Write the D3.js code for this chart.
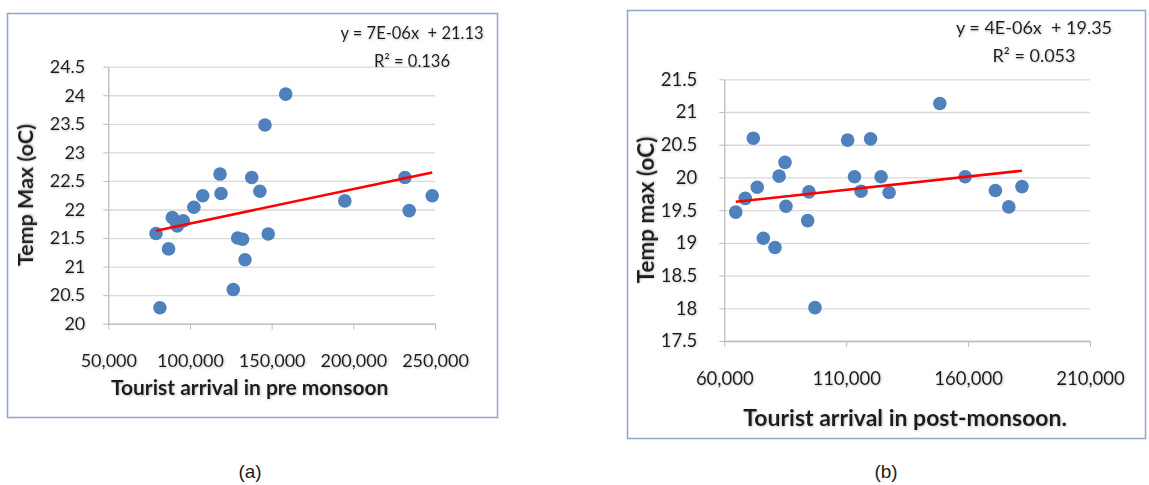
<!DOCTYPE html>
<html>
<head>
<meta charset="utf-8">
<script src="https://d3js.org/d3.v7.min.js"></script>
<style>
  body { margin: 0; background: #fff; }
  svg { display: block; }
  text { font-family: Lato, "Open Sans", sans-serif; fill: #1b1b1b; }
</style>
</head>
<body>
<svg width="1149" height="485">
  <defs>
    <filter id="soft" x="-5%" y="-20%" width="110%" height="140%">
      <feDropShadow dx="0.8" dy="0.8" stdDeviation="0.8" flood-color="#888" flood-opacity="0.55"></feDropShadow>
    </filter>
  </defs>
</svg>
<script>
// (a) pre monsoon
var preArrivals = [79200, 86900, 81600, 89200, 91400, 95900, 92200, 102400, 107800, 129200, 132200, 133700,
  126500, 147900, 158600, 145900, 118400, 119000, 137800, 142800, 231600, 194800, 248300, 234200];
var preTempMax = [21.58, 21.31, 20.28, 21.86, 21.79, 21.80, 21.71, 22.04, 22.24, 21.50, 21.48, 21.12,
  20.60, 21.57, 24.02, 23.48, 22.62, 22.28, 22.56, 22.32, 22.56, 22.15, 22.24, 21.98];
var preXTicks = [50000, 100000, 150000, 200000, 250000];
var preYTicks = [20, 20.5, 21, 21.5, 22, 22.5, 23, 23.5, 24, 24.5];

// (b) post monsoon
var postArrivals = [71900, 84900, 82500, 73500, 68600, 64700, 85300, 94700, 94200, 76000, 80800, 97200,
  148400, 110600, 120000, 113400, 124300, 116100, 127600, 158800, 171200, 182100, 176700];
var postTempMax = [20.60, 20.23, 20.02, 19.85, 19.68, 19.47, 19.56, 19.78, 19.34, 19.07, 18.93, 18.01,
  21.13, 20.57, 20.59, 20.01, 20.01, 19.79, 19.77, 20.01, 19.80, 19.86, 19.55];
var postXTicks = [60000, 110000, 160000, 210000];
var postYTicks = [17.5, 18, 18.5, 19, 19.5, 20, 20.5, 21, 21.5];

var svg = d3.select('svg');

function fit(xs, ys) {
  var mx = d3.mean(xs), my = d3.mean(ys), sxy = 0, sxx = 0;
  xs.forEach(function (x, i) { sxy += (x - mx) * (ys[i] - my); sxx += (x - mx) * (x - mx); });
  var b = sxy / sxx;
  return { slope: b, intercept: my - b * mx };
}

function panel(opt) {
  // outer frame
  svg.append('rect')
    .attr('x', opt.box[0] + 0.5).attr('y', opt.box[1] + 0.5)
    .attr('width', opt.box[2] - opt.box[0]).attr('height', opt.box[3] - opt.box[1])
    .attr('fill', '#fff').attr('stroke', '#8ea7cd').attr('stroke-width', 1.5);

  var x = d3.scaleLinear().domain(d3.extent(opt.xTicks)).range([opt.left, opt.right]);
  var y = d3.scaleLinear().domain(d3.extent(opt.yTicks)).range([opt.bottom, opt.top]);

  // gridlines
  svg.append('g')
    .attr('transform', 'translate(' + opt.left + ',0)')
    .call(d3.axisLeft(y).tickValues(opt.yTicks).tickSize(-(opt.right - opt.left)).tickFormat(''))
    .call(function (g) { g.select('.domain').remove(); })
    .selectAll('line').attr('stroke', '#d9d9d9').attr('stroke-width', 1.3);

  // y axis
  var ya = svg.append('g')
    .attr('transform', 'translate(' + opt.left + ',0)')
    .call(d3.axisLeft(y).tickValues(opt.yTicks).tickSizeInner(5).tickSizeOuter(0).tickPadding(opt.yPad)
      .tickFormat(function (d) { return String(d); }));
  ya.select('.domain').attr('stroke', '#bdbdbd').attr('stroke-width', 1.3);
  ya.selectAll('line').attr('stroke', '#bdbdbd');
  ya.selectAll('text').style('font-size', opt.tickFont).attr('fill', '#1b1b1b').attr('filter', 'url(#soft)');

  // x axis
  var xa = svg.append('g')
    .attr('transform', 'translate(0,' + opt.bottom + ')')
    .call(d3.axisBottom(x).tickValues(opt.xTicks).tickSizeInner(6).tickSizeOuter(0)
      .tickFormat(d3.format(',')));
  xa.select('.domain').attr('stroke', '#bdbdbd').attr('stroke-width', 1.3);
  xa.selectAll('line').attr('stroke', '#bdbdbd');
  xa.selectAll('text').style('font-size', opt.tickFont).attr('fill', '#1b1b1b')
    .attr('dy', null).attr('y', opt.xLabelY).attr('filter', 'url(#soft)');

  // points
  svg.append('g').selectAll('circle')
    .data(opt.xs)
    .enter()
    .append('circle')
    .attr('cx', function (d) { return x(d); })
    .attr('cy', function (d, i) { return y(opt.ys[i]); })
    .attr('r', 6.8)
    .attr('fill', '#4f81bd');

  // linear trend line
  var f = fit(opt.xs, opt.ys);
  var ext = d3.extent(opt.xs);
  svg.append('path')
    .datum(ext)
    .attr('fill', 'none')
    .attr('stroke', '#ff0000')
    .attr('stroke-width', 2.6)
    .attr('d', d3.line()
      .x(function (d) { return x(d); })
      .y(function (d) { return y(f.intercept + f.slope * d); }));

  // equation label
  svg.append('text').attr('x', opt.eqX).attr('y', opt.eqY)
    .attr('text-anchor', 'middle').style('font-size', opt.eqFont).style('white-space', 'pre')
    .attr('filter', 'url(#soft)')
    .text(opt.eq);
  svg.append('text').attr('x', opt.eqX).attr('y', opt.eqY + 28)
    .attr('text-anchor', 'middle').style('font-size', opt.eqFont)
    .attr('filter', 'url(#soft)')
    .text('R\u00b2 = ' + opt.r2);

  // axis titles
  svg.append('text')
    .attr('x', (opt.left + opt.right) / 2 + opt.xTitleShift).attr('y', opt.xTitleY)
    .attr('text-anchor', 'middle')
    .style('font-size', opt.xTitleFont).style('font-weight', 'bold')
    .attr('filter', 'url(#soft)')
    .text(opt.xTitle);
  svg.append('text')
    .attr('transform', 'translate(' + opt.yTitleX + ',' + (opt.top + opt.bottom) / 2 + ') rotate(-90)')
    .attr('text-anchor', 'middle')
    .style('font-size', opt.yTitleFont).style('font-weight', 'bold')
    .attr('filter', 'url(#soft)')
    .text(opt.yTitle);

  // caption
  svg.append('text')
    .attr('x', opt.capX).attr('y', 478)
    .attr('text-anchor', 'middle')
    .style('font-size', '19px').style('font-family', '"Liberation Sans Narrow", "Liberation Sans", sans-serif')
    .text(opt.caption);
}

panel({
  box: [7, 13, 497, 417],
  left: 108.3, right: 435, top: 66.7, bottom: 323.7,
  xs: preArrivals, ys: preTempMax, xTicks: preXTicks, yTicks: preYTicks,
  tickFont: '18px', yPad: 18, xLabelY: 43,
  eq: 'y = 7E-06x  + 21.13', r2: '0.136', eqX: 412, eqY: 39, eqFont: '16.5px',
  xTitle: 'Tourist arrival in pre monsoon', xTitleY: 395, xTitleShift: -22, xTitleFont: '21px',
  yTitle: 'Temp Max (oC)', yTitleX: 33, yTitleFont: '21.5px',
  caption: '(a)', capX: 250
});

panel({
  box: [627, 10, 1145, 438],
  left: 724.3, right: 1090, top: 79.3, bottom: 341,
  xs: postArrivals, ys: postTempMax, xTicks: postXTicks, yTicks: postYTicks,
  tickFont: '18.5px', yPad: 22, xLabelY: 44,
  eq: 'y = 4E-06x  + 19.35', r2: '0.053', eqX: 1034, eqY: 33.5, eqFont: '18px',
  xTitle: 'Tourist arrival in post-monsoon.', xTitleY: 426, xTitleShift: -2, xTitleFont: '23px',
  yTitle: 'Temp max (oC)', yTitleX: 654, yTitleFont: '22.5px',
  caption: '(b)', capX: 886
});
</script>
</body>
</html>
